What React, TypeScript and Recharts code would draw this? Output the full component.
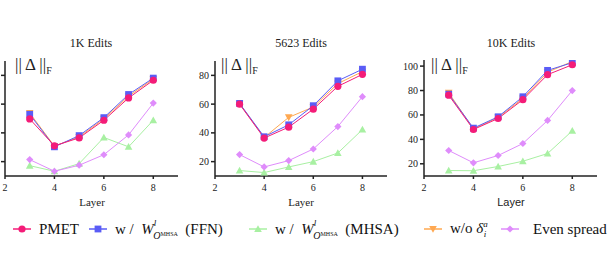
import React from "react";
import {LineChart, Line, XAxis, YAxis} from "recharts";

const layers = [3, 4, 5, 6, 7, 8];
const xTicks = [2, 4, 6, 8];

// 1K edits
const pmet1K = [49.7, 31.0, 36.5, 48.8, 64.3, 76.6];
const ffn1K = [52.9, 30.3, 38.1, 50.6, 66.7, 78.1];
const mhsa1K = [17.2, 13.3, 18.6, 36.8, 30.3, 48.8];
const noDelta1K = [53.8, 30.8, 37.2, 49.8, 65.5, 77.5];
const even1K = [21.4, 13.3, 17.5, 24.8, 38.6, 60.7];

// 5623 edits
const pmet5623 = [60.0, 36.4, 44.0, 56.5, 72.4, 80.7];
const ffn5623 = [60.5, 37.3, 45.6, 58.9, 76.2, 84.3];
const mhsa5623 = [13.8, 12.4, 16.3, 20.0, 26.0, 42.3];
const noDelta5623 = [60.3, 36.8, 50.8, 58.0, 74.3, 82.6];
const even5623 = [24.9, 16.3, 20.7, 28.8, 44.4, 65.2];

// 10K edits
const pmet10K = [76.2, 48.1, 57.1, 72.5, 93.0, 101.1];
const ffn10K = [77.0, 49.2, 58.5, 74.9, 96.5, 102.8];
const mhsa10K = [14.5, 14.3, 17.8, 22.1, 28.4, 47.0];
const noDelta10K = [78.2, 48.5, 58.0, 73.5, 95.0, 103.8];
const even10K = [30.9, 20.8, 26.8, 36.6, 55.5, 80.0];

const colors: Record<string, string> = {
    PMET: "#f41c78",
    FFN: "#5a5cf6",
    MHSA: "#a8f0a2",
    NoDelta: "#ffa851",
    Even: "#df8cfb",
};

function makeRows(pmet: number[], ffn: number[], mhsa: number[], noDelta: number[], even: number[]) {
    return layers.map((layer, i) => ({
        layer,
        PMET: pmet[i],
        FFN: ffn[i],
        MHSA: mhsa[i],
        NoDelta: noDelta[i],
        Even: even[i],
    }));
}

function Marker({kind, cx, cy}: { kind: string, cx: number, cy: number }) {
    const c = colors[kind];
    if (kind === "PMET") return <circle cx={cx} cy={cy} r={3.6} fill={c}/>;
    if (kind === "FFN") return <rect x={cx - 3.4} y={cy - 3.4} width={6.8} height={6.8} fill={c}/>;
    if (kind === "MHSA") return <polygon points={`${cx},${cy - 3.8} ${cx - 3.8},${cy + 3} ${cx + 3.8},${cy + 3}`} fill={c}/>;
    if (kind === "NoDelta") return <polygon points={`${cx},${cy + 3.8} ${cx - 3.8},${cy - 3} ${cx + 3.8},${cy - 3}`} fill={c}/>;
    return <polygon points={`${cx},${cy - 3.6} ${cx + 3.6},${cy} ${cx},${cy + 3.6} ${cx - 3.6},${cy}`} fill={c}/>;
}

const drawOrder = ["MHSA", "Even", "NoDelta", "FFN", "PMET"];

const tickStyle = {fill: "#222", fontSize: 10, fontFamily: "Liberation Serif"};

function Panel({left, plotWidth, top, domain, yTicks, rows, hideYLabels}: {
    left: number, plotWidth: number, top: number, domain: number[], yTicks: number[], rows: any[], hideYLabels?: boolean
}) {
    return (
        <div style={{position: "absolute", left, top: 0}}>
            <LineChart width={30 + plotWidth} height={210} data={rows}
                       margin={{top, right: 0, bottom: 0, left: 0}}>
                <XAxis dataKey="layer" type="number" domain={[2, 9]} ticks={xTicks}
                       height={34} allowDataOverflow
                       stroke="#222" strokeWidth={1.5} tickSize={3}
                       tick={{...tickStyle, dy: 3}}/>
                <YAxis type="number" domain={domain} ticks={yTicks} width={30}
                       allowDataOverflow
                       stroke="#222" strokeWidth={1.5} tickSize={4}
                       tick={hideYLabels ? () => <g/> : tickStyle}/>
                {drawOrder.map(name => (
                    <Line key={name} dataKey={name} stroke={colors[name]} strokeWidth={1}
                          isAnimationActive={false}
                          dot={(p: any) => <Marker key={`${name}-${p.index}`} kind={name} cx={p.cx} cy={p.cy}/>}
                          activeDot={false}/>
                ))}
            </LineChart>
        </div>
    );
}

const serif = "'Liberation Serif', serif";

function Label({x, y, text, size, family, center}: {
    x: number, y: number, text: React.ReactNode, size: number, family: string, center?: boolean
}) {
    return (
        <div style={{
            position: "absolute", left: x, top: y, fontSize: size, fontFamily: family, color: "#222",
            whiteSpace: "nowrap", transform: center ? "translateX(-50%)" : undefined, lineHeight: 1,
        }}>{text}</div>
    );
}

function NormLabel({x}: { x: number }) {
    return (
        <Label x={x} y={56} size={17} family={serif}
               text={<span>|| Δ ||<sub style={{fontSize: 10}}>F</sub></span>}/>
    );
}

function WLabel({tail}: { tail: string }) {
    return (
        <span>w /&nbsp;&nbsp;<i>W</i><sup style={{fontSize: 9, verticalAlign: "8px"}}><i>l</i></sup>
            <sub style={{fontSize: 10, verticalAlign: "-5px", marginLeft: -3}}><i>O</i><span style={{fontSize: 6, verticalAlign: "3px"}}>MHSA</span></sub>
            &nbsp;&nbsp;{tail}</span>
    );
}

const legendItems = [
    {key: "PMET", x: 12, label: <span>PMET</span>},
    {key: "FFN", x: 88, label: <WLabel tail="(FFN)"/>},
    {key: "MHSA", x: 248, label: <WLabel tail="(MHSA)"/>},
    {key: "NoDelta", x: 423, label: <span>w/o <i>δ</i><sup style={{fontSize: 9, verticalAlign: "6px"}}><i>a</i></sup><sub style={{fontSize: 9, verticalAlign: "-4px", marginLeft: -4}}><i>i</i></sub></span>},
    {key: "Even", x: 500, label: <span>Even spread</span>},
];

export default function App() {
    return (
        <div style={{position: "fixed", left: 0, top: 0, width: 612, height: 254, overflow: "hidden", background: "#fff"}}>
            <Panel left={-25} plotWidth={173} top={61} domain={[10, 90]} yTicks={[20, 40, 60, 80]}
                   rows={makeRows(pmet1K, ffn1K, mhsa1K, noDelta1K, even1K)} hideYLabels/>
            <Panel left={185} plotWidth={172} top={61} domain={[10, 90]} yTicks={[20, 40, 60, 80]}
                   rows={makeRows(pmet5623, ffn5623, mhsa5623, noDelta5623, even5623)}/>
            <Panel left={394} plotWidth={173} top={60} domain={[10, 105]} yTicks={[20, 40, 60, 80, 100]}
                   rows={makeRows(pmet10K, ffn10K, mhsa10K, noDelta10K, even10K)}/>

            <Label x={91} y={37} size={12} family={serif} text="1K Edits" center/>
            <Label x={301} y={37} size={12} family={serif} text="5623 Edits" center/>
            <Label x={511} y={37} size={12} family={serif} text="10K Edits" center/>

            <NormLabel x={15}/>
            <NormLabel x={221}/>
            <NormLabel x={431}/>

            <Label x={92} y={197} size={11} family={serif} text="Layer" center/>
            <Label x={301} y={197} size={11} family={serif} text="Layer" center/>
            <Label x={511} y={197} size={11} family="'Liberation Sans', sans-serif" text="Layer" center/>

            {legendItems.map(item => (
                <div key={item.key} style={{position: "absolute", left: item.x, top: 219, height: 20, display: "flex", alignItems: "center"}}>
                    <svg width={20} height={20}>
                        <line x1={1} y1={10} x2={19} y2={10} stroke={colors[item.key]} strokeWidth={1.5}/>
                        <Marker kind={item.key} cx={10} cy={10}/>
                    </svg>
                    <span style={{marginLeft: item.key === "Even" ? 13 : 7, fontSize: 15, fontFamily: serif, color: "#111", whiteSpace: "nowrap"}}>{item.label}</span>
                </div>
            ))}
        </div>
    );
}
